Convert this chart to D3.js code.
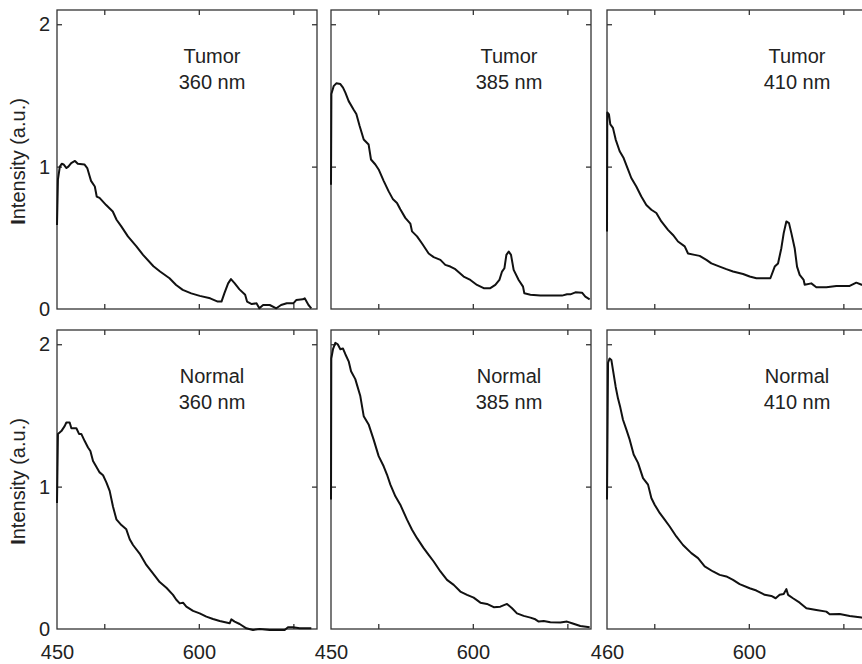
<!DOCTYPE html>
<html>
<head>
<meta charset="utf-8">
<script src="https://cdn.jsdelivr.net/npm/d3@7"></script>
<style>
  body { margin: 0; background: #fff; }
  text { font-family: "Liberation Sans", Arial, Helvetica, sans-serif; fill: #222; }
</style>
</head>
<body>
<div id="chart"></div>
<script>
// Emission spectra, [wavelength (nm), intensity (a.u.)]
var tumor360 = [[450,0.59],[451,0.91],[453,1.0],[455,1.02],[457,1.015],[460,0.99],[462,1.0],[465,1.025],[469,1.04],[472,1.02],[479,1.015],[482,0.99],[484,0.945],[486,0.9],[490,0.86],[492,0.79],[495,0.78],[502,0.73],[509,0.685],[513,0.627],[518,0.58],[525,0.51],[534,0.44],[541,0.38],[552,0.30],[559,0.263],[569,0.216],[576,0.169],[583,0.134],[592,0.11],[601,0.092],[612,0.075],[620,0.052],[624,0.052],[627,0.11],[631,0.18],[634,0.21],[638,0.18],[643,0.138],[649,0.1],[651,0.052],[656,0.035],[661,0.04],[664,0.005],[668,0.028],[675,0.028],[682,0.005],[687,0.028],[693,0.04],[700,0.04],[703,0.063],[710,0.068],[712,0.075],[716,0.028],[719,0.005]];

var tumor385 = [[450,0.873],[450.4,1.51],[452.8,1.565],[455.6,1.585],[459.9,1.58],[462.7,1.555],[465.2,1.52],[468.7,1.46],[474,1.40],[476.8,1.37],[480.3,1.285],[484.6,1.19],[489.8,1.155],[492.3,1.05],[496.9,1.015],[500.4,0.98],[505.7,0.90],[511,0.826],[515.6,0.77],[519.8,0.745],[523.3,0.70],[528.6,0.64],[533.9,0.60],[535.7,0.545],[541,0.51],[546.3,0.46],[553.3,0.39],[558.6,0.364],[565.7,0.345],[570.9,0.31],[576.2,0.298],[581.5,0.28],[590.3,0.228],[597.4,0.204],[604.4,0.169],[611.5,0.146],[618.5,0.146],[623.8,0.169],[628.1,0.204],[630.9,0.263],[633.4,0.286],[635.5,0.38],[638,0.404],[640.4,0.38],[643.2,0.275],[648.5,0.204],[653.1,0.157],[654.5,0.11],[660.9,0.1],[671.4,0.094],[685.5,0.094],[694.3,0.094],[699.6,0.103],[703.2,0.103],[708.5,0.117],[715.5,0.115],[719,0.087],[723.6,0.068]];

var tumor410 = [[450,0.545],[450.3,1.38],[452.1,1.366],[453.5,1.296],[456.3,1.272],[459.2,1.19],[463.4,1.108],[467.6,1.06],[472.2,0.98],[475.7,0.92],[481,0.86],[486.3,0.79],[491.6,0.73],[496.9,0.697],[502.2,0.674],[507.5,0.615],[514.5,0.556],[519.8,0.52],[525.1,0.474],[532.2,0.44],[535.7,0.39],[542.7,0.38],[548,0.373],[555.1,0.345],[560.4,0.32],[569.2,0.298],[576.2,0.28],[583.3,0.263],[593.9,0.246],[600.9,0.228],[608,0.216],[616.8,0.216],[622.8,0.216],[627.4,0.298],[630.9,0.32],[634.4,0.427],[636.9,0.533],[639.7,0.615],[642.5,0.603],[645,0.533],[648.5,0.427],[651,0.298],[653.8,0.24],[658,0.204],[659.1,0.17],[666.1,0.18],[671.4,0.153],[682,0.153],[692.6,0.162],[706.7,0.162],[713.7,0.185],[719.4,0.17],[724,0.17]];

var normal360 = [[450,0.885],[451,1.37],[454.6,1.39],[458.1,1.425],[459.9,1.45],[463.4,1.45],[465.2,1.41],[470.5,1.41],[473.3,1.37],[475.7,1.37],[479.3,1.32],[482.8,1.275],[485.3,1.25],[488.1,1.18],[491.6,1.14],[495.1,1.1],[498.7,1.08],[502.2,1.03],[505.7,0.97],[509.2,0.86],[512.8,0.77],[518.1,0.73],[523.3,0.70],[526.9,0.63],[530.4,0.59],[537.4,0.53],[544.5,0.45],[551.5,0.39],[558.6,0.33],[565.7,0.29],[572.7,0.24],[576.2,0.205],[579.8,0.18],[583.3,0.185],[586.8,0.157],[593.9,0.127],[600.9,0.11],[608,0.087],[615,0.07],[622.1,0.056],[632.6,0.04],[634.4,0.068],[637.9,0.052],[643.2,0.035],[650.3,0.005],[657.3,-0.007],[664.4,0],[675,-0.007],[690.8,-0.007],[694.3,0.012],[699.6,0.012],[706.7,0.005],[719,0.005]];

var normal385 = [[450,0.91],[450.3,1.9],[452.1,1.965],[454.6,2.01],[457.1,2.0],[459.9,1.965],[462.7,1.97],[465.2,1.93],[468.7,1.88],[471.2,1.81],[475.7,1.755],[481,1.636],[484.6,1.495],[489.8,1.437],[495.1,1.33],[500.4,1.214],[505.7,1.143],[509.2,1.085],[512.8,1.014],[518.1,0.932],[523.3,0.873],[530.4,0.768],[535.7,0.697],[541,0.638],[548,0.568],[553.3,0.52],[558.6,0.474],[565.7,0.404],[572.7,0.345],[579.8,0.31],[586.8,0.263],[593.9,0.24],[600.9,0.22],[608,0.185],[615,0.176],[622.1,0.153],[629.1,0.157],[636.2,0.176],[641.5,0.146],[646.7,0.11],[653.8,0.092],[660.9,0.08],[666.1,0.068],[669.7,0.052],[675,0.056],[682,0.047],[692.6,0.045],[699.6,0.052],[704.9,0.04],[713.7,0.021],[723.6,0.012]];

var normal410 = [[450,0.91],[451.1,1.87],[452.8,1.9],[454.6,1.89],[456.3,1.82],[459.2,1.70],[461.6,1.62],[464.1,1.555],[466.9,1.47],[470.5,1.40],[474,1.33],[478.2,1.225],[482.8,1.167],[488.1,1.06],[493.4,1.014],[496.9,0.92],[500.4,0.873],[505.7,0.815],[511,0.768],[516.3,0.72],[523.3,0.65],[530.4,0.59],[539.2,0.533],[546.3,0.498],[553.3,0.44],[562.1,0.404],[569.2,0.38],[576.2,0.369],[583.3,0.345],[590.3,0.315],[600.9,0.286],[608,0.27],[616.8,0.24],[623.8,0.232],[628.4,0.216],[632.6,0.24],[636.9,0.246],[639.7,0.28],[641.5,0.24],[646.7,0.216],[653.8,0.185],[660.9,0.146],[671.4,0.134],[682,0.122],[685.5,0.103],[696.1,0.105],[706.7,0.092],[719.4,0.08],[724,0.078]];

var tissues = ["Tumor", "Normal"];
var excitations = ["360 nm", "385 nm", "410 nm"];
var seriesGrid = [[tumor360, tumor385, tumor410], [normal360, normal385, normal410]];
var xDomain = [450, 725];
var yDomain = [0, 2.1];
var xTickMarks = [500, 600, 700];
var xLabelValues = [450, 600];
var xLabelTexts = [["450", "600"], ["450", "600"], ["460", "600"]];
var yTickMarks = [1, 2];
var yLabelValues = [0, 1, 2];

var width = 862, height = 664;
var colLeft = [57, 331, 607];
var rowTop = [10, 330];
var pw = 260, ph = 299;
var textOffset = [155, 178, 190];

var svg = d3.select("#chart").append("svg")
    .attr("width", width)
    .attr("height", height);

var x = d3.scaleLinear().domain(xDomain).range([0, pw]);
var y = d3.scaleLinear().domain(yDomain).range([ph, 0]);

var line = d3.line()
    .x(d => x(d[0]))
    .y(d => y(d[1]));

rowTop.forEach(function(top, r) {
    colLeft.forEach(function(left, c) {
        var g = svg.append("g").attr("transform", "translate(" + left + "," + top + ")");

        // inward ticks on all four sides
        var tickStyle = function(a) {
            a.select(".domain").remove();
            a.selectAll(".tick line").attr("stroke", "#333").attr("stroke-width", 1.3);
            a.selectAll(".tick text").remove();
        };
        g.append("g").attr("transform", "translate(0," + ph + ")")
            .call(d3.axisBottom(x).tickValues(xTickMarks).tickSize(-5)).call(tickStyle);
        g.append("g")
            .call(d3.axisTop(x).tickValues(xTickMarks).tickSize(-5)).call(tickStyle);
        g.append("g")
            .call(d3.axisLeft(y).tickValues(yTickMarks).tickSize(-5)).call(tickStyle);
        g.append("g").attr("transform", "translate(" + pw + ",0)")
            .call(d3.axisRight(y).tickValues(yTickMarks).tickSize(-5)).call(tickStyle);

        g.append("rect")
            .attr("width", pw)
            .attr("height", ph)
            .attr("fill", "none")
            .attr("stroke", "#333")
            .attr("stroke-width", 1.3);

        g.append("path")
            .datum(seriesGrid[r][c])
            .attr("d", line)
            .attr("fill", "none")
            .attr("stroke", "#111")
            .attr("stroke-width", 2)
            .attr("stroke-linejoin", "round");

        // panel annotation
        var t = g.append("text")
            .attr("text-anchor", "middle")
            .style("font-size", "20px");
        t.append("tspan").attr("x", textOffset[c]).attr("y", 53).text(tissues[r]);
        t.append("tspan").attr("x", textOffset[c]).attr("y", 79).text(excitations[c]);

        // y labels on the first column
        if (c === 0) {
            var ya = g.append("g")
                .call(d3.axisLeft(y).tickValues(yLabelValues).tickSize(0).tickPadding(7).tickFormat(d3.format("d")));
            ya.select(".domain").remove();
            ya.selectAll("text").style("font-size", "20px").attr("fill", "#222")
                .style("font-family", "'Liberation Sans', Arial, sans-serif");

            var yl = svg.append("text")
                .attr("transform", "translate(25," + (top + ph / 2 + 2) + ") rotate(-90)")
                .attr("text-anchor", "middle")
                .style("font-size", "20px");
            yl.append("tspan").style("font-weight", "bold").text("I");
            yl.append("tspan").text("ntensity (a.u.)");
        }

        // x labels on the bottom row
        if (r === 1) {
            var xa = g.append("g").attr("transform", "translate(0," + ph + ")")
                .call(d3.axisBottom(x).tickValues(xLabelValues).tickSize(0).tickPadding(16)
                    .tickFormat((d, i) => xLabelTexts[c][i]));
            xa.select(".domain").remove();
            xa.selectAll("text").style("font-size", "20px").attr("fill", "#222")
                .style("font-family", "'Liberation Sans', Arial, sans-serif");
        }
    });
});
</script>
</body>
</html>
